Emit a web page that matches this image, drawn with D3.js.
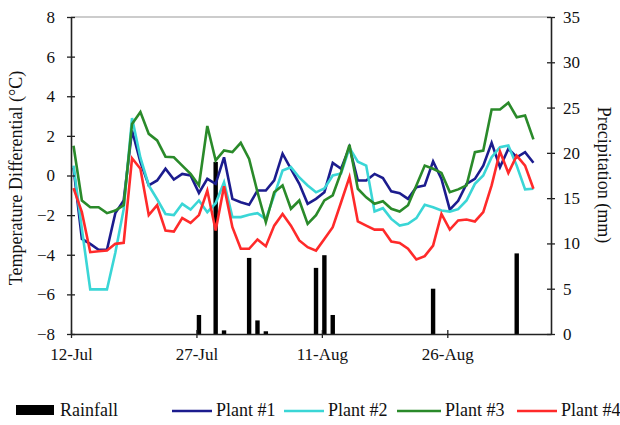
<!DOCTYPE html>
<html><head><meta charset="utf-8">
<script src="https://cdn.jsdelivr.net/npm/d3@7"></script>
<style>body{margin:0;background:#fff}svg{display:block}svg text{font-family:"Liberation Serif","DejaVu Serif",serif}</style>
</head><body>
<svg id="chart" width="620" height="425"></svg>
<script>
const tickDays = [0, 15, 30, 45];
const tickLabels = ["12-Jul", "27-Jul", "11-Aug", "26-Aug"];
const tempTicks = [-8, -6, -4, -2, 0, 2, 4, 6, 8];
const precipTicks = [0, 5, 10, 15, 20, 25, 30, 35];

const plant1 = [0.4,-3.2,-3.45,-3.75,-3.75,-1.9,-1.26,2.27,0.67,-0.5,-0.25,0.34,-0.2,0.08,0.0,-0.88,-0.17,-0.42,0.92,-1.18,-1.35,-1.48,-0.76,-0.76,-0.25,1.1,0.34,-0.42,-1.43,-1.18,-0.84,0.64,0.34,1.43,-0.25,-0.25,0.08,-0.13,-0.8,-0.89,-1.18,-0.59,-0.5,0.71,-0.17,-1.72,-1.28,-0.42,-0.17,0.5,1.65,0.42,1.35,0.92,1.18,0.64];
const plant2 = [0.5,-2.7,-5.75,-5.75,-5.75,-3.9,-1.7,2.9,0.9,-0.5,-1.2,-1.94,-2.0,-1.43,-1.72,-1.26,-1.85,-1.4,-0.34,-2.1,-2.1,-1.98,-1.9,-2.2,-1.0,0.25,0.42,-0.1,-0.5,-0.85,-0.65,0.0,0.1,1.4,0.7,0.5,-1.82,-1.65,-2.19,-2.53,-2.44,-2.15,-1.48,-1.6,-1.77,-1.82,-1.7,-1.26,-0.42,0.0,0.92,1.43,1.52,0.5,-0.7,-0.67];
const plant3 = [1.5,-1.26,-1.6,-1.6,-1.9,-1.77,-1.5,2.6,3.2,2.1,1.77,0.95,0.92,0.5,0.08,-0.5,2.5,0.76,1.26,1.18,1.65,0.84,-0.84,-2.36,-0.84,-0.5,-1.68,-1.26,-2.44,-2.0,-1.26,-1.0,0.17,1.55,-0.67,-1.1,-1.43,-1.3,-1.68,-1.82,-1.5,-0.5,0.5,0.34,0.13,-0.84,-0.7,-0.5,1.18,1.26,3.33,3.33,3.67,2.94,3.03,1.82];
const plant4 = [-0.64,-1.85,-3.87,-3.82,-3.79,-3.45,-3.4,0.87,0.34,-2.0,-1.5,-2.78,-2.83,-2.15,-2.39,-2.0,-0.76,-2.78,-0.54,-2.61,-3.7,-3.7,-3.23,-3.57,-2.53,-1.94,-2.53,-3.28,-3.62,-3.79,-3.2,-2.61,-1.35,-0.08,-2.32,-2.53,-2.73,-2.73,-3.33,-3.4,-3.7,-4.24,-4.07,-3.54,-1.94,-2.73,-2.27,-2.22,-2.32,-1.85,-0.5,1.21,0.13,1.0,0.5,-0.67];
const rainDays = [15, 17, 18, 21, 22, 23, 29, 30, 31, 43, 53];
const rainMm = [2.1, 19.0, 0.4, 8.4, 1.5, 0.3, 7.3, 8.7, 2.1, 5.0, 8.9];

const seriesNames = ["Plant #1", "Plant #2", "Plant #3", "Plant #4"];
const seriesColors = ["#1c1c8e", "#3ad6d6", "#2a8a2a", "#ff2a2a"];
const seriesData = [plant1, plant2, plant3, plant4];

const svg = d3.select("#chart");
const L = 71, R = 551, T = 17, B = 334;
const dayOffset = 0.3;

const x = d3.scaleLinear().domain([0, 57.4]).range([L, R]);
const yL = d3.scaleLinear().domain([-8, 8]).range([B, T]);
const yR = d3.scaleLinear().domain([0, 35]).range([B, T]);

// top border
svg.append("line").attr("x1", L).attr("x2", R).attr("y1", T).attr("y2", T)
  .attr("stroke", "#9a9a9a").attr("stroke-width", 1.2);

// rainfall bars
svg.append("g").selectAll("rect").data(rainDays).join("rect")
  .attr("x", (d) => x(d + dayOffset) - 2.2)
  .attr("width", 4.4)
  .attr("y", (d, i) => yR(rainMm[i]))
  .attr("height", (d, i) => B - yR(rainMm[i]))
  .attr("fill", "#000");

// lines
const line = d3.line().x((d, i) => x(i + dayOffset)).y((d) => yL(d));
seriesData.forEach((s, k) => {
  svg.append("path").datum(s).attr("d", line)
    .attr("fill", "none").attr("stroke", seriesColors[k])
    .attr("stroke-width", 2.6).attr("stroke-linejoin", "miter");
});

// axes
function styleAxis(g) {
  g.attr("font-family", null);
  g.selectAll("path.domain").attr("stroke", "#222").attr("stroke-width", 1.6);
  g.selectAll(".tick line").attr("stroke", "#222").attr("stroke-width", 1.3);
  g.selectAll("text").attr("font-size", 17).attr("fill", "#111");
}
const axL = svg.append("g").attr("transform", `translate(${L},0)`)
  .call(d3.axisLeft(yL).tickValues(tempTicks).tickSize(4).tickPadding(12).tickSizeOuter(0));
axL.selectAll(".tick line").attr("x1", 4).attr("x2", -4);
styleAxis(axL);

const axR = svg.append("g").attr("transform", `translate(${R},0)`)
  .call(d3.axisRight(yR).tickValues(precipTicks).tickSize(4).tickPadding(8).tickSizeOuter(0));
axR.selectAll(".tick line").attr("x1", -4).attr("x2", 4);
styleAxis(axR);

const axB = svg.append("g").attr("transform", `translate(0,${B})`)
  .call(d3.axisBottom(x).tickValues(tickDays).tickFormat((d, i) => tickLabels[i]).tickSize(4).tickPadding(10).tickSizeOuter(0));
axB.selectAll(".tick line").attr("y1", -4).attr("y2", 4);
styleAxis(axB);

// titles
svg.append("text").attr("transform", "translate(22,178) rotate(-90)")
  .attr("text-anchor", "middle").attr("font-size", 18)
  .attr("fill", "#111").text("Temperature Differential (°C)");
svg.append("text").attr("transform", "translate(598,175) rotate(90)")
  .attr("text-anchor", "middle").attr("font-size", 18)
  .attr("fill", "#111").text("Precipitation (mm)");

// legend
const lg = svg.append("g");
lg.append("rect").attr("x", 16).attr("y", 405).attr("width", 38).attr("height", 10).attr("fill", "#000");
lg.append("text").attr("x", 60).attr("y", 416).attr("font-size", 18).attr("fill", "#111").text("Rainfall");
const legX = [172, 284, 397, 517];
const legW = [40, 40, 44, 40];
seriesNames.forEach((n, k) => {
  lg.append("line").attr("x1", legX[k]).attr("x2", legX[k] + legW[k]).attr("y1", 411).attr("y2", 411)
    .attr("stroke", seriesColors[k]).attr("stroke-width", 2.6);
  lg.append("text").attr("x", legX[k] + legW[k] + 4).attr("y", 416)
    .attr("font-size", 18).attr("fill", "#111").text(n);
});
</script>
</body></html>
